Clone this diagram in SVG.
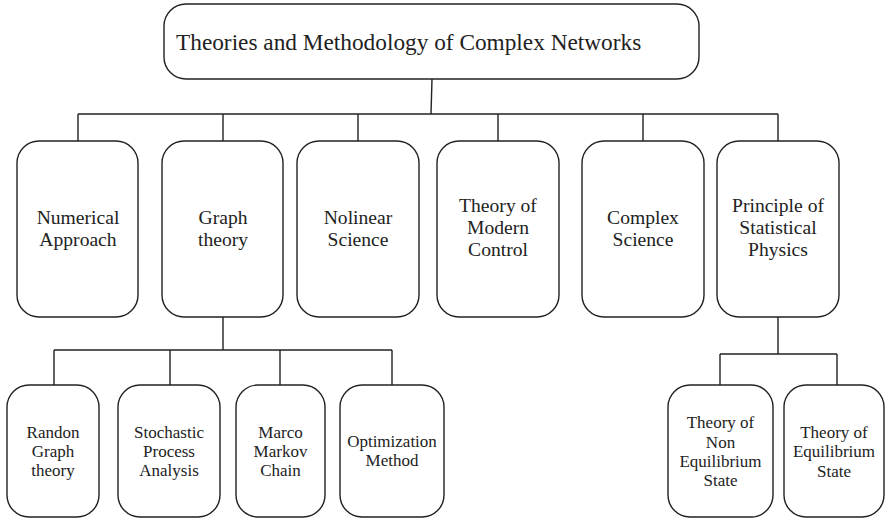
<svg xmlns="http://www.w3.org/2000/svg" width="886" height="519" viewBox="0 0 886 519">
<style>
.box{fill:#fff;stroke:#222;stroke-width:1.4}
.ln{fill:none;stroke:#222;stroke-width:1.4}
text{fill:#222;text-anchor:middle}
.t1{font-size:23.3px;text-anchor:start}
.t2{font-size:19.6px}
.t3{font-size:17px}
</style>
<rect width="886" height="519" fill="#fff"/>
<g id="connectors">
<path class="ln" d="M432 79 L431 114"/>
<path class="ln" d="M78 114 H778 M78 114 V141 M223 114 V141 M358 114 V141 M498 114 V141 M643 114 V141 M778 114 V141"/>
<path class="ln" d="M223 317 V350 M54 350 H392 M54 350 V385 M170 350 V385 M280 350 V385 M392 350 V385"/>
<path class="ln" d="M778 317 V354 M720 354 H837 M720 354 V385 M837 354 V385"/>
</g>
<g font-family="Liberation Serif, Times New Roman, DejaVu Serif, serif">
<g id="root"><rect class="box" x="164" y="4" width="535" height="75" rx="22"/><text class="t1" x="176" y="50">Theories and Methodology of Complex Networks</text></g>
<g id="numerical"><rect class="box" x="17" y="141" width="121" height="176" rx="22"/><text class="t2" x="78"><tspan x="78" y="224">Numerical</tspan><tspan x="78" y="246">Approach</tspan></text></g>
<g id="graph"><rect class="box" x="162" y="141" width="121" height="176" rx="22"/><text class="t2"><tspan x="223" y="224">Graph</tspan><tspan x="223" y="246">theory</tspan></text></g>
<g id="nolinear"><rect class="box" x="297" y="141" width="122" height="176" rx="22"/><text class="t2"><tspan x="358" y="224">Nolinear</tspan><tspan x="358" y="246">Science</tspan></text></g>
<g id="control"><rect class="box" x="437" y="141" width="122" height="176" rx="22"/><text class="t2"><tspan x="498" y="212">Theory of</tspan><tspan x="498" y="234">Modern</tspan><tspan x="498" y="256">Control</tspan></text></g>
<g id="complex"><rect class="box" x="582" y="141" width="122" height="176" rx="22"/><text class="t2"><tspan x="643" y="224">Complex</tspan><tspan x="643" y="246">Science</tspan></text></g>
<g id="statistical"><rect class="box" x="717" y="141" width="122" height="176" rx="22"/><text class="t2"><tspan x="778" y="212">Principle of</tspan><tspan x="778" y="234">Statistical</tspan><tspan x="778" y="256">Physics</tspan></text></g>
<g id="randon"><rect class="box" x="7" y="385" width="92" height="132" rx="22"/><text class="t3"><tspan x="53" y="438">Randon</tspan><tspan x="53" y="457">Graph</tspan><tspan x="53" y="476">theory</tspan></text></g>
<g id="stochastic"><rect class="box" x="118" y="385" width="102" height="132" rx="22"/><text class="t3"><tspan x="169" y="438">Stochastic</tspan><tspan x="169" y="457">Process</tspan><tspan x="169" y="476">Analysis</tspan></text></g>
<g id="markov"><rect class="box" x="236" y="385" width="89" height="132" rx="22"/><text class="t3"><tspan x="280.5" y="438">Marco</tspan><tspan x="280.5" y="457">Markov</tspan><tspan x="280.5" y="476">Chain</tspan></text></g>
<g id="optimization"><rect class="box" x="340" y="385" width="104" height="132" rx="22"/><text class="t3"><tspan x="392" y="447">Optimization</tspan><tspan x="392" y="466">Method</tspan></text></g>
<g id="nonequilibrium"><rect class="box" x="668" y="385" width="105" height="132" rx="22"/><text class="t3"><tspan x="720.5" y="428">Theory of</tspan><tspan x="720.5" y="448">Non</tspan><tspan x="720.5" y="467">Equilibrium</tspan><tspan x="720.5" y="486">State</tspan></text></g>
<g id="equilibrium"><rect class="box" x="784" y="385" width="100" height="132" rx="22"/><text class="t3"><tspan x="834" y="438">Theory of</tspan><tspan x="834" y="457">Equilibrium</tspan><tspan x="834" y="477">State</tspan></text></g>
</g>
</svg>
